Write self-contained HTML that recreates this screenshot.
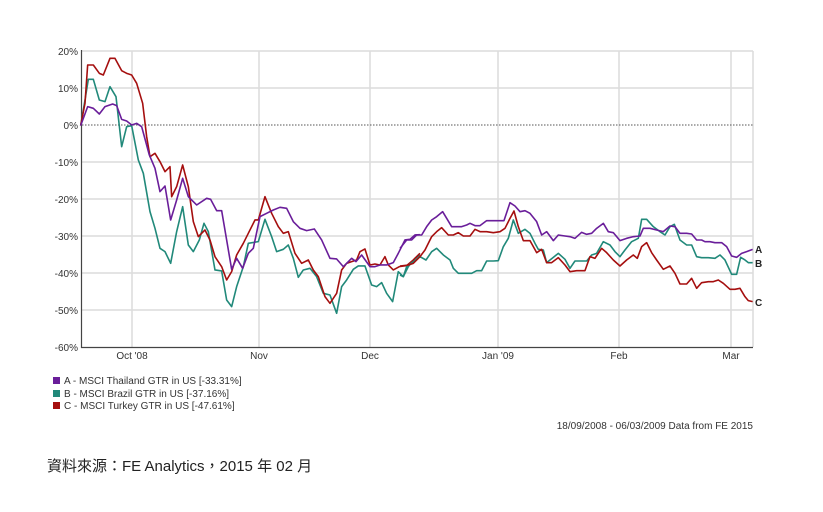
<!DOCTYPE html>
<html><head><meta charset="utf-8"><style>
html,body{margin:0;padding:0;background:#fff;}
body{width:823px;height:512px;position:relative;overflow:hidden;font-family:"Liberation Sans",Arial,sans-serif;}
</style></head><body>
<svg width="823" height="512" style="position:absolute;left:0;top:0" font-family="Liberation Sans, Arial, sans-serif">
<g stroke="#dcdcdc" stroke-width="1.5">
<line x1="82" y1="51" x2="753" y2="51"/><line x1="82" y1="88" x2="753" y2="88"/>
<line x1="82" y1="162" x2="753" y2="162"/><line x1="82" y1="199" x2="753" y2="199"/>
<line x1="82" y1="236" x2="753" y2="236"/><line x1="82" y1="273" x2="753" y2="273"/>
<line x1="82" y1="310" x2="753" y2="310"/>
<line x1="132" y1="51" x2="132" y2="347"/><line x1="259" y1="51" x2="259" y2="347"/>
<line x1="370" y1="51" x2="370" y2="347"/><line x1="498" y1="51" x2="498" y2="347"/>
<line x1="619" y1="51" x2="619" y2="347"/><line x1="731" y1="51" x2="731" y2="347"/>
<line x1="753" y1="51" x2="753" y2="347"/>
</g>
<line x1="82" y1="125" x2="753" y2="125" stroke="#555" stroke-width="1" stroke-dasharray="1.5,1.5"/>
<line x1="81.5" y1="50" x2="81.5" y2="348" stroke="#444" stroke-width="1.2"/>
<line x1="81" y1="347.5" x2="753" y2="347.5" stroke="#444" stroke-width="1.2"/>
<g font-size="10" fill="#333" text-anchor="end">
<text x="78" y="55">20%</text><text x="78" y="92">10%</text><text x="78" y="129">0%</text>
<text x="78" y="166">-10%</text><text x="78" y="203">-20%</text><text x="78" y="240">-30%</text>
<text x="78" y="277">-40%</text><text x="78" y="314">-50%</text><text x="78" y="351">-60%</text>
</g>
<g font-size="10" fill="#333" text-anchor="middle">
<text x="132" y="359">Oct '08</text><text x="259" y="359">Nov</text><text x="370" y="359">Dec</text>
<text x="498" y="359">Jan '09</text><text x="619" y="359">Feb</text><text x="731" y="359">Mar</text>
</g>
<g fill="none" stroke-width="1.6" stroke-linejoin="round">
<g transform="translate(40,40) scale(0.3333)">
<polyline vector-effect="non-scaling-stroke" stroke="#21897a" points="122,257 135,180 145,118 160,118 178,180 195,185 210,140 228,170 245,320 260,260 275,257 295,360 310,400 330,515 345,565 360,625 375,635 392,670 410,575 428,500 445,615 460,635 478,600 492,550 505,575 525,690 545,693 560,780 575,800 590,740 610,680 625,610 655,605 675,538 695,590 710,635 730,628 745,615 760,655 775,712 790,690 810,685 830,710 850,760 870,765 890,820 905,740 920,720 940,688 955,678 975,678 995,735 1010,740 1025,728 1040,760 1058,785 1075,695 1090,710 1105,680 1125,655 1140,645"/>
<polyline vector-effect="non-scaling-stroke" stroke="#a50f0f" points="122,257 135,190 143,75 160,75 178,100 190,105 210,55 225,55 245,92 260,100 275,105 290,130 308,190 320,290 330,350 345,340 360,365 375,395 390,380 395,470 410,440 428,375 445,440 460,545 475,590 495,570 510,600 525,650 545,680 560,720 575,695 590,645 610,610 625,580 645,540 655,540 675,470 695,520 715,560 730,580 745,575 765,640 785,670 805,660 820,690 835,710 855,770 870,790 890,760 905,690 920,670 935,665 950,660 960,635 975,627 990,675 1005,672 1020,675 1035,650 1045,675 1060,690 1078,680 1100,677 1120,660 1140,640"/>
<polyline vector-effect="non-scaling-stroke" stroke="#6a1e9a" points="122,257 143,200 160,205 178,222 195,200 218,192 230,197 245,238 260,243 275,255 290,250 305,260 328,345 345,385 360,455 375,438 392,540 410,480 428,415 445,470 470,495 500,475 512,478 530,512 545,512 575,688 590,655 608,685 625,640 640,625 660,530 680,520 700,510 720,502 740,505 760,545 780,565 800,572 823,567 845,600 870,655 890,657 910,680 935,655 948,665 965,645 990,680 1005,680 1020,675 1040,675 1060,668 1075,640 1095,600 1110,598 1125,585 1140,584"/>
</g>
<g transform="translate(400,180) scale(0.3333)">
<polyline vector-effect="non-scaling-stroke" stroke="#21897a" points="0,285 10,290 20,260 40,245 60,230 78,240 95,215 110,205 130,225 150,240 160,265 175,280 195,280 215,280 230,272 245,272 260,243 280,243 295,242 310,200 325,175 340,120 355,160 375,148 390,160 405,190 415,208 430,210 440,248 460,232 475,220 495,238 510,265 525,243 545,243 560,243 575,225 590,220 610,185 630,195 645,215 660,230 675,210 695,185 715,175 725,118 740,118 760,140 780,155 795,165 810,140 823,133 840,180 860,195 875,195 890,230 905,233 925,233 945,235 960,225 975,240 995,283 1010,283 1022,232 1035,240 1045,248 1058,248"/>
<polyline vector-effect="non-scaling-stroke" stroke="#a50f0f" points="0,258 25,255 40,250 60,230 75,210 95,170 110,155 125,143 145,165 160,165 175,158 190,168 210,168 225,148 240,155 260,155 280,158 300,155 315,145 330,115 342,93 355,140 370,182 390,182 410,218 425,208 440,248 455,248 475,233 495,255 510,275 530,272 555,272 570,230 585,235 605,205 620,218 640,240 660,258 680,240 700,225 712,235 725,200 740,188 755,218 770,240 790,268 810,258 825,280 840,312 860,312 875,295 890,325 905,308 925,305 940,305 955,300 970,310 990,328 1005,328 1020,325 1035,350 1045,362 1058,365"/>
<polyline vector-effect="non-scaling-stroke" stroke="#6a1e9a" points="0,205 20,180 35,180 50,165 65,165 80,140 95,120 110,110 128,95 140,115 155,140 170,140 185,140 200,135 210,130 225,137 240,137 260,122 280,122 300,122 312,122 330,68 345,78 360,95 375,92 390,100 410,125 425,165 440,155 460,182 475,165 495,168 510,170 525,175 545,157 560,163 575,160 590,145 610,130 625,155 640,158 660,182 680,175 700,170 720,168 730,145 750,145 770,150 790,155 810,138 825,140 840,160 860,160 875,162 890,180 905,180 915,185 930,185 945,188 965,188 980,200 995,228 1010,232 1025,220 1040,215 1058,208"/>
</g>
</g>
<g font-size="10" font-weight="bold" fill="#222">
<text x="755" y="253">A</text><text x="755" y="267">B</text><text x="755" y="306">C</text>
</g>
<rect x="53" y="377" width="7" height="7" fill="#6a1e9a"/>
<rect x="53" y="390" width="7" height="7" fill="#21897a"/>
<rect x="53" y="402" width="7" height="7" fill="#a50f0f"/>
<g font-size="10" fill="#333">
<text x="64" y="384">A - MSCI Thailand GTR in US [-33.31%]</text>
<text x="64" y="397">B - MSCI Brazil GTR in US [-37.16%]</text>
<text x="64" y="409">C - MSCI Turkey GTR in US [-47.61%]</text>
<text x="753" y="429" text-anchor="end">18/09/2008 - 06/03/2009 Data from FE 2015</text>
</g>
<text x="47" y="471" font-size="15" fill="#222" font-family="Liberation Sans, Noto Sans CJK TC, sans-serif">資料來源：FE Analytics，2015 年 02 月</text>
</svg>
</body></html>
